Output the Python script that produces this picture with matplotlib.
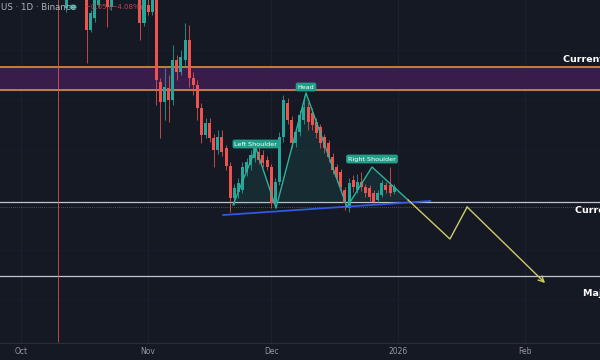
import matplotlib.pyplot as plt
import numpy as np

# daily candles, day 0 = Oct 1 2025
opens = [4.30, 4.40, 4.50, 4.42, 4.55, 4.62, 4.58, 4.45, 4.38, 4.44,
         4.10, 3.92, 4.12, 4.20, 4.15, 4.22, 4.12, 3.70, 3.82, 3.95,
         4.12, 4.18, 3.93, 4.10, 4.15, 4.25, 4.20, 4.28, 4.22, 4.12,
         3.77, 3.95, 3.88, 4.05, 3.18, 2.98, 3.12, 3.00, 3.40, 3.28,
         3.40, 3.60, 3.22, 3.15, 2.92, 2.65, 2.77, 2.62, 2.50, 2.63,
         2.52, 2.34, 2.02, 2.08, 2.10, 2.28, 2.35, 2.42, 2.48, 2.45,
         2.40, 2.33, 1.97, 2.18, 2.63, 2.97, 2.80, 2.57, 2.68, 2.80,
         2.93, 2.87, 2.78, 2.73, 2.63, 2.57, 2.43, 2.33, 2.28, 2.10,
         1.92, 2.20, 2.10, 2.18, 2.13, 2.12, 2.07, 2.00, 2.05, 2.15,
         2.15, 2.08]
highs = [4.45, 4.55, 4.60, 4.58, 4.70, 4.75, 4.65, 4.55, 4.50, 4.55,
         4.22, 4.20, 4.25, 4.30, 4.28, 4.30, 4.20, 3.90, 4.15, 4.20,
         4.25, 4.25, 4.15, 4.22, 4.28, 4.35, 4.30, 4.35, 4.30, 4.20,
         4.15, 4.02, 4.12, 4.10, 3.22, 3.32, 3.25, 3.55, 3.45, 3.50,
         3.77, 3.75, 3.28, 3.20, 2.97, 2.82, 2.82, 2.66, 2.70, 2.70,
         2.55, 2.38, 2.16, 2.22, 2.38, 2.42, 2.50, 2.57, 2.54, 2.50,
         2.44, 2.36, 2.22, 2.68, 3.05, 3.02, 2.84, 2.73, 2.90, 3.04,
         2.98, 2.92, 2.82, 2.76, 2.66, 2.60, 2.47, 2.36, 2.31, 2.13,
         2.22, 2.25, 2.26, 2.28, 2.16, 2.15, 2.10, 2.10, 2.20, 2.18,
         2.33, 2.16]
lows = [4.20, 4.30, 4.35, 4.38, 4.45, 4.50, 4.40, 4.30, 4.25, 0.58,
        4.03, 3.88, 4.05, 4.10, 4.06, 4.08, 3.37, 3.68, 3.78, 3.93,
        4.05, 3.73, 3.90, 4.04, 4.08, 4.12, 4.10, 4.15, 4.06, 3.60,
        3.74, 3.85, 3.85, 2.95, 2.62, 2.80, 2.78, 2.95, 3.20, 3.25,
        3.33, 3.13, 3.05, 2.80, 2.57, 2.62, 2.58, 2.33, 2.46, 2.44,
        2.30, 1.88, 1.95, 2.02, 2.07, 2.24, 2.30, 2.38, 2.36, 2.33,
        2.30, 1.92, 1.92, 2.15, 2.58, 2.76, 2.52, 2.53, 2.64, 2.76,
        2.70, 2.70, 2.62, 2.52, 2.47, 2.38, 2.26, 2.18, 2.08, 1.90,
        1.88, 2.08, 2.07, 2.09, 2.03, 1.99, 1.96, 1.97, 2.03, 2.07,
        2.04, 2.06]
closes = [4.40, 4.50, 4.42, 4.55, 4.62, 4.58, 4.45, 4.38, 4.44, 4.10,
          4.15, 4.12, 4.20, 4.15, 4.22, 4.12, 3.70, 3.87, 4.05, 4.12,
          4.18, 3.93, 4.10, 4.15, 4.25, 4.20, 4.28, 4.22, 4.12, 3.77,
          4.05, 3.88, 4.05, 3.20, 2.98, 3.13, 3.00, 3.40, 3.28, 3.43,
          3.60, 3.22, 3.15, 2.92, 2.65, 2.77, 2.62, 2.50, 2.63, 2.48,
          2.34, 2.02, 2.12, 2.17, 2.33, 2.38, 2.45, 2.53, 2.40, 2.37,
          2.33, 1.97, 2.18, 2.63, 3.00, 2.80, 2.57, 2.68, 2.85, 2.93,
          2.78, 2.75, 2.67, 2.57, 2.52, 2.43, 2.30, 2.23, 2.13, 1.97,
          2.17, 2.13, 2.18, 2.13, 2.07, 2.03, 1.98, 2.07, 2.17, 2.10,
          2.07, 2.13]

month_days = [0, 31, 61, 92, 123]
month_labels = ["Oct", "Nov", "Dec", "2026", "Feb"]

# drawn levels
resist_top, resist_bot = 3.33, 3.10
support_level = 1.98
support_dotted = 1.93
major_support = 1.24

# head & shoulders drawing anchors (day, price)
hs_days = [51.7, 57.3, 62.2, 69.5, 79.5, 85.6, 94.4]
hs_prices = [1.95, 2.52, 1.92, 3.07, 1.93, 2.33, 2.00]
neck_days = [49.3, 99.8]
neck_prices = [1.85, 1.99]
proj_days = [94.4, 104.6, 108.8, 127.8]
proj_prices = [2.00, 1.61, 1.93, 1.17]

bg = "#151924"
up_c, down_c = "#26a69a", "#ef5350"

fig = plt.figure(figsize=(6, 3.6), dpi=100, facecolor=bg)
ax = fig.add_axes([0, 17 / 360, 1, 343 / 360])
ax.set_facecolor(bg)

days = np.arange(len(opens))
o = np.array(opens); c = np.array(closes)
colors = [up_c if cc >= oo else down_c for oo, cc in zip(o, c)]

# grid
for d in month_days:
    ax.axvline(d, color="#1d2130", lw=0.7, zorder=0)
for p in [1.0, 1.5, 2.5, 3.0, 3.5]:
    ax.axhline(p, color="#1a1e2b", lw=0.6, zorder=0)

# resistance zone
ax.axhspan(resist_bot, resist_top, color="#381c4a", zorder=1)
ax.axhline(resist_top, color="#e89a45", lw=1.1, zorder=2)
ax.axhline(resist_bot, color="#e89a45", lw=1.1, zorder=2)

ax.axhline(support_level, color="#c3c5cc", lw=0.9, zorder=2)
ax.axhline(support_dotted, color="#5d616d", lw=0.6, ls=(0, (1, 1.5)), zorder=2)
ax.axhline(major_support, color="#c3c5cc", lw=0.9, zorder=2)

# candles
ax.vlines(days, lows, highs, colors=colors, lw=0.55, zorder=3)
ax.bar(days, np.abs(c - o), bottom=np.minimum(o, c), width=0.74,
       color=colors, zorder=4)

# pattern fill + lines
ax.fill(hs_days, hs_prices, color="#26a69a", alpha=0.13, lw=0, zorder=2)
ax.plot(neck_days, neck_prices, color="#3158e0", lw=1.3, zorder=5)
ax.plot(hs_days, hs_prices, color="#2bb39b", lw=1.0, zorder=5)
ax.plot(proj_days[:-1], proj_prices[:-1], color="#cfcb6a", lw=1.0, zorder=5)
ax.annotate("", xy=(proj_days[-1], proj_prices[-1]),
            xytext=(proj_days[-2], proj_prices[-2]),
            arrowprops=dict(arrowstyle="->", color="#cfcb6a", lw=1.0,
                            shrinkA=0, shrinkB=0), zorder=5)

box = dict(boxstyle="round,pad=0.3", fc="#1f9e88", ec="none")
ax.text(hs_days[1], 2.56, "Left Shoulder", color="white", fontsize=4.6,
        ha="center", va="center", bbox=box, zorder=6)
ax.text(hs_days[3], 3.13, "Head", color="white", fontsize=4.6,
        ha="center", va="center", bbox=box, zorder=6)
ax.text(hs_days[5], 2.41, "Right Shoulder", color="white", fontsize=4.6,
        ha="center", va="center", bbox=box, zorder=6)

# level labels run off the right edge, as in the screenshot
ax.text(132.2, 3.41, "Current Resistance", color="white", fontsize=6.8,
        fontweight="semibold", ha="left", va="center", zorder=6)
ax.text(135.1, 1.90, "Current Support", color="white", fontsize=6.8,
        fontweight="semibold", ha="left", va="center", zorder=6)
ax.text(137.1, 1.07, "Major Support", color="white", fontsize=6.8,
        fontweight="semibold", ha="left", va="center", zorder=6)

ax.set_xlim(-5.12, 141.2)
ax.set_ylim(0.57, 4.00)
ax.set_xticks(month_days)
ax.set_xticklabels(month_labels, color="#9598a1", fontsize=5.5)
ax.tick_params(axis="x", length=0, pad=3)
ax.set_yticks([])
for s in ["top", "left", "right"]:
    ax.spines[s].set_visible(False)
ax.spines["bottom"].set_color("#2a2e39")
ax.spines["bottom"].set_linewidth(0.8)

# header
fig.text(0.001, 1 - 7 / 360, "US · 1D · Binance", color="#b2b5be",
         fontsize=6.2, ha="left", va="center")
fig.patches.append(plt.Circle((73 / 600, 1 - 7 / 360), 0.005,
                              transform=fig.transFigure, color="#26a69a"))
fig.text(85 / 600, 1 - 7 / 360, "−0.05 (−4.08%)", color="#c0444f",
         fontsize=5, ha="left", va="center")

fig.savefig("out.png", dpi=100, facecolor=bg)
